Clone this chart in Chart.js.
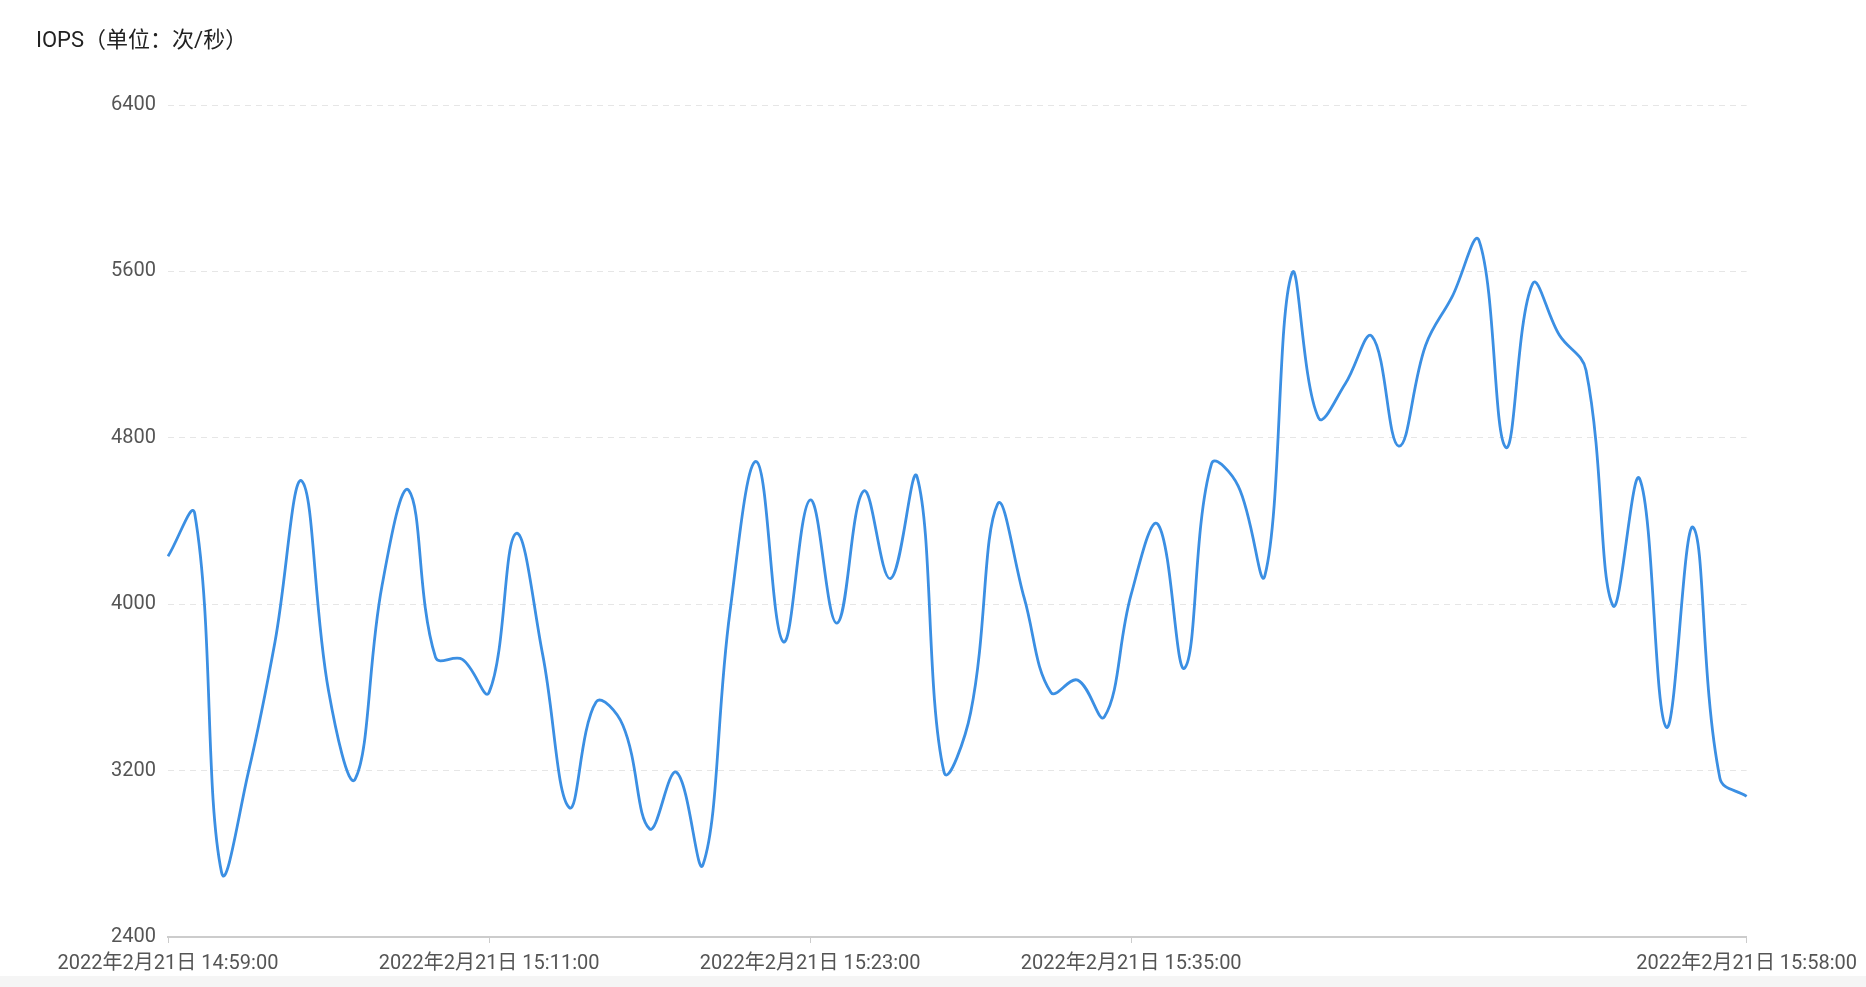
<!doctype html>
<html lang="zh">
<head>
<meta charset="utf-8">
<title>IOPS</title>
<script src="https://cdn.jsdelivr.net/npm/chart.js@4.4.1/dist/chart.umd.min.js"></script>
<style>
  html, body { margin: 0; padding: 0; background: #fff; }
  #wrap { position: relative; width: 1866px; height: 976px; }
  #title {
    position: absolute; left: 36px; top: 21px;
    font-family: Roboto, "Noto Sans CJK SC", sans-serif;
    font-size: 22px; color: #222;
  }
  #foot { width: 1866px; height: 11px; background: #f5f5f5; }
</style>
</head>
<body>
<div id="wrap">
  <div id="title">IOPS（单位：次/秒）</div>
  <canvas id="iopsChart" width="1866" height="976"></canvas>
</div>
<div id="foot"></div>

<script>
// one sample per minute, 14:59 -> 15:58
var startHour = 14, startMin = 59;
var times = [];
for (var i = 0; i < 60; i++) {
  var m = startHour * 60 + startMin + i;
  var hh = Math.floor(m / 60), mm = m % 60;
  times.push('2022年2月21日 ' + hh + ':' + (mm < 10 ? '0' : '') + mm + ':00');
}

var iops = [
  4230, 4435, 2712, 3190, 3820, 4592, 3584, 3160, 4090, 4547,
  3744, 3735, 3576, 4339, 3760, 3022, 3530, 3418, 2920, 3192,
  2749, 3960, 4685, 3819, 4501, 3909, 4544, 4123, 4611, 3195,
  3480, 4480, 4030, 3576, 3635, 3459, 4048, 4384, 3693, 4675,
  4568, 4140, 5589, 4896, 5060, 5288, 4760, 5244, 5480, 5748,
  4754, 5540, 5294, 5124, 3994, 4604, 3408, 4370, 3164, 3076
];

var yTicks = [2400, 3200, 4000, 4800, 5600, 6400];
var xTickIdx = [0, 12, 24, 36, 59];

var fontFam = 'Roboto, "Noto Sans CJK SC", sans-serif';

new Chart(document.getElementById('iopsChart'), {
  type: 'line',
  data: {
    labels: times,
    datasets: [{
      data: iops,
      borderColor: '#3b8fe3',
      borderWidth: 2.8,
      pointRadius: 0,
      tension: 0.4,
      fill: false
    }]
  },
  options: {
    responsive: false,
    animation: false,
    layout: { padding: { left: 0, right: 119, top: 105, bottom: 0 } },
    plugins: { legend: { display: false }, tooltip: { enabled: false } },
    scales: {
      x: {
        afterBuildTicks: function (scale) {
          scale.ticks = scale.ticks.filter(function (t) { return xTickIdx.indexOf(t.value) >= 0; });
        },
        afterFit: function (scale) { scale.height = 976 - 937; },
        ticks: {
          autoSkip: false, maxRotation: 0, padding: 9,
          color: '#555', font: { family: fontFam, size: 20 }
        },
        grid: { drawOnChartArea: false, tickLength: 6, color: '#ccc' },
        border: { color: '#ccc', width: 2 }
      },
      y: {
        min: 2400, max: 6400,
        afterBuildTicks: function (scale) {
          scale.ticks = yTicks.map(function (v) { return { value: v }; });
        },
        afterFit: function (scale) { scale.width = 168; },
        ticks: {
          padding: 12, color: '#555', font: { family: fontFam, size: 20 },
          callback: function (v) { return String(v); }
        },
        grid: { color: '#e6e6e6', tickLength: 0 },
        border: { display: false, dash: [6, 5] }
      }
    }
  }
});
</script>
</body>
</html>
